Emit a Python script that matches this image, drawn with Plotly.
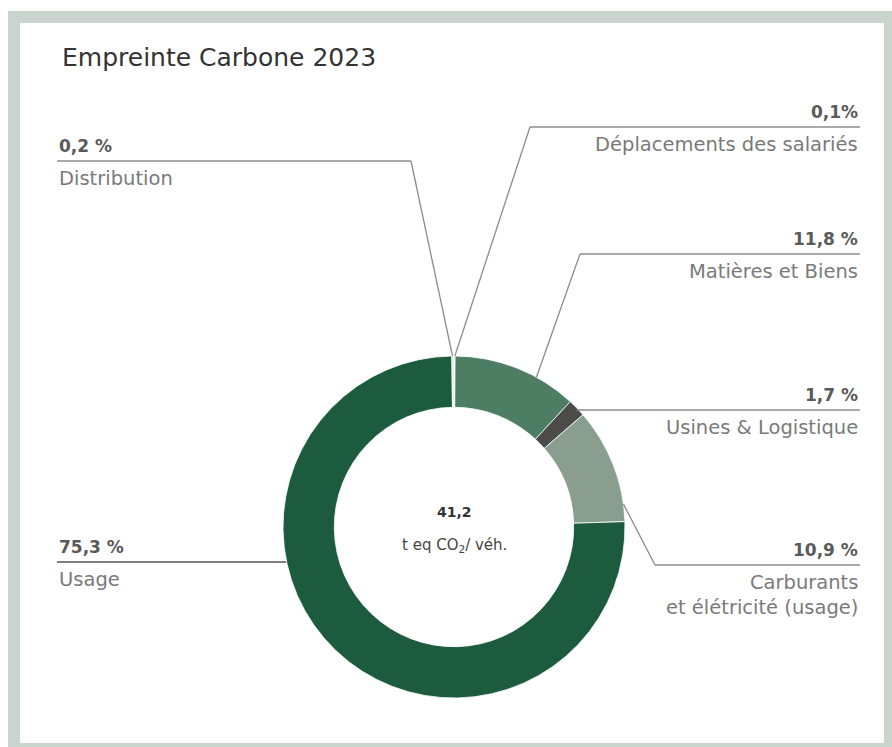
import math
import plotly.graph_objects as go

# Carbon footprint breakdown, 2023 (share of total, %)
categories = [
    "Déplacements des salariés",
    "Matières et Biens",
    "Usines & Logistique",
    "Carburants<br>et élétricité (usage)",
    "Usage",
    "Distribution",
]
shares = [0.1, 11.8, 1.7, 10.9, 75.3, 0.2]
share_labels = ["0,1%", "11,8 %", "1,7 %", "10,9 %", "75,3 %", "0,2 %"]
total_value = "41,2"
total_unit = "t eq CO<sub>2</sub>/ véh."

colors = ["#e9eeea", "#4d7d62", "#4b4b49", "#8a9e90", "#1c5b3e", "#dfe6e1"]

W, H = 892, 747
FONT = "DejaVu Sans"
PCT_COLOR = "#5a5a5a"
LBL_COLOR = "#7a7a7a"
LINE_COLOR = "#8c8c8c"

# donut geometry (pixels)
CX, CY, R = 454, 527, 171
HOLE = 0.70


def px(x):
    return x / W


def py(y):
    return 1 - y / H


fig = go.Figure()
fig.add_trace(go.Pie(
    labels=categories,
    values=shares,
    sort=False,
    direction="clockwise",
    rotation=0,
    hole=HOLE,
    marker=dict(colors=colors, line=dict(color="#ffffff", width=0.8)),
    textinfo="none",
    hoverinfo="label+percent",
    showlegend=False,
    domain=dict(x=[px(CX - R), px(CX + R)], y=[py(CY + R), py(CY - R)]),
))

# leader-line layout per slice: where on the slice the line starts (fraction
# of the slice), elbow point, end of the horizontal rule, text side
leader = [
    dict(frac=0.8, elbow=(530, 127), end=860, side="right"),
    dict(frac=0.67, elbow=(580, 254), end=860, side="right"),
    dict(frac=0.5, elbow=None, end=860, side="right", y=410),
    dict(frac=0.85, elbow=(655, 565), end=860, side="right"),
    dict(frac=0.63, elbow=None, end=57, side="left", y=562),
    dict(frac=0.3, elbow=(411, 161), end=57, side="left"),
]

total = sum(shares)
shapes = []
annotations = []
cum = 0.0
for i, (v, lay) in enumerate(zip(shares, leader)):
    ang = (cum + v * lay["frac"]) / total * 2 * math.pi
    cum += v
    ax = CX + R * math.sin(ang)
    ay = CY - R * math.cos(ang)
    if lay["elbow"] is not None:
        ex, ey = lay["elbow"]
        shapes.append(dict(type="line", xref="paper", yref="paper",
                           x0=px(ax), y0=py(ay), x1=px(ex), y1=py(ey),
                           line=dict(color=LINE_COLOR, width=1.3)))
        y_rule = ey
        x_start = ex
    else:
        y_rule = lay["y"]
        x_start = ax
    rule_color = "#555555" if categories[i] == "Usage" else LINE_COLOR
    shapes.append(dict(type="line", xref="paper", yref="paper",
                       x0=px(x_start), y0=py(y_rule), x1=px(lay["end"]), y1=py(y_rule),
                       line=dict(color=rule_color, width=1.6)))
    anchor = "right" if lay["side"] == "right" else "left"
    annotations.append(dict(
        text=f"<b>{share_labels[i]}</b>", xref="paper", yref="paper",
        x=px(lay["end"]), y=py(y_rule - 3), xanchor=anchor, yanchor="bottom",
        showarrow=False, font=dict(family=FONT, size=17, color=PCT_COLOR)))
    annotations.append(dict(
        text=categories[i], xref="paper", yref="paper",
        x=px(lay["end"]), y=py(y_rule + 4), xanchor=anchor, yanchor="top",
        align=anchor, showarrow=False,
        font=dict(family=FONT, size=19.5, color=LBL_COLOR)))

# centre of the donut
annotations.append(dict(text=f"<b>{total_value}</b>", xref="paper", yref="paper",
                        x=px(CX), y=py(522), showarrow=False,
                        font=dict(family=FONT, size=14, color="#333333")))
annotations.append(dict(text=total_unit, xref="paper", yref="paper",
                        x=px(CX), y=py(557), showarrow=False,
                        font=dict(family=FONT, size=15, color="#444444")))

# title
annotations.append(dict(text="Empreinte Carbone 2023", xref="paper", yref="paper",
                        x=px(60), y=py(57), xanchor="left", yanchor="middle",
                        showarrow=False,
                        font=dict(family=FONT, size=25, color="#333333")))

# card frame
frame = [
    dict(type="rect", xref="paper", yref="paper", layer="below",
         x0=px(8), y0=py(747), x1=px(892), y1=py(11),
         fillcolor="#c9d4cd", line=dict(width=0)),
    dict(type="rect", xref="paper", yref="paper", layer="below",
         x0=px(20), y0=py(743), x1=px(884), y1=py(23),
         fillcolor="#ffffff", line=dict(width=0)),
]

fig.update_layout(
    width=W, height=H,
    margin=dict(l=0, r=0, t=0, b=0),
    paper_bgcolor="#ffffff",
    shapes=frame + shapes,
    annotations=annotations,
)

fig.write_html("out.html")
